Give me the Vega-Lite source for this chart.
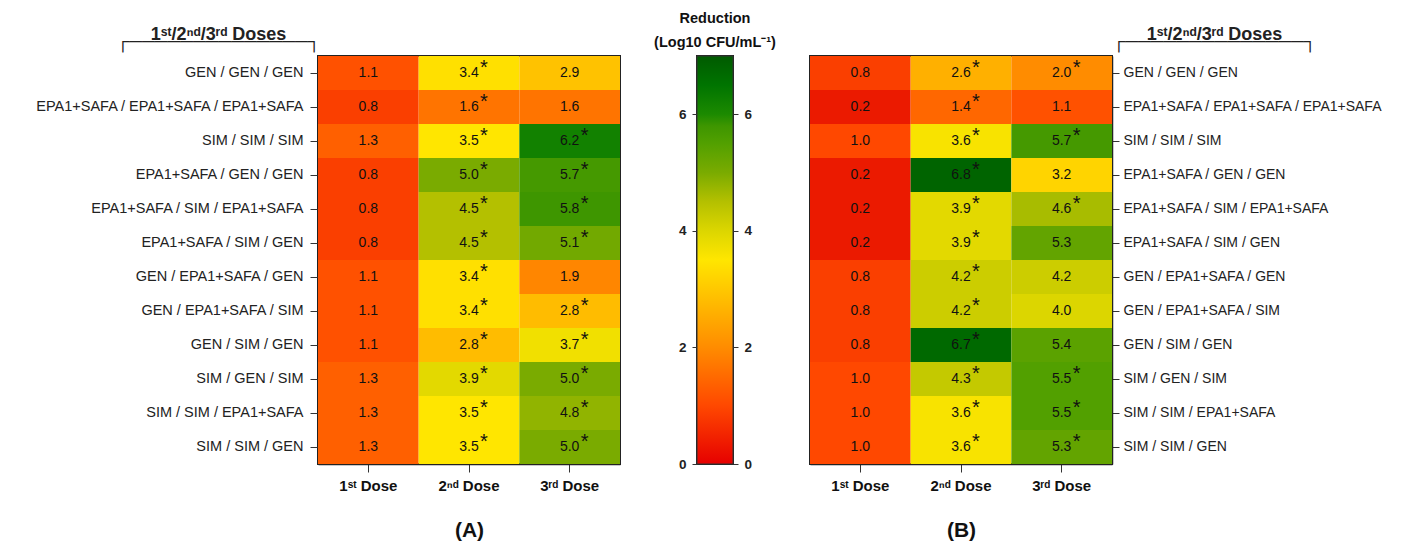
{
  "$schema": "https://vega.github.io/schema/vega-lite/v6.json",
  "background": "white",
  "padding": {"left": 33, "top": 10, "right": 10, "bottom": 2},
  "config": {
    "font": "Liberation Sans",
    "view": {"stroke": "#222", "strokeWidth": 2},
    "axis": {"grid": false, "domainColor": "#222", "tickColor": "#333", "labelColor": "#222", "titleColor": "#111", "zindex": 1}
  },
  "spacing": 77,
  "bounds": "flush",
  "datasets": {
    "cells": [
      {"panel": "A", "regimen": "GEN / GEN / GEN", "dose": "1ˢᵗ Dose", "value": 1.1, "sig": 0},
      {"panel": "A", "regimen": "GEN / GEN / GEN", "dose": "2ⁿᵈ Dose", "value": 3.4, "sig": 1},
      {"panel": "A", "regimen": "GEN / GEN / GEN", "dose": "3ʳᵈ Dose", "value": 2.9, "sig": 0},
      {"panel": "A", "regimen": "EPA1+SAFA / EPA1+SAFA / EPA1+SAFA", "dose": "1ˢᵗ Dose", "value": 0.8, "sig": 0},
      {"panel": "A", "regimen": "EPA1+SAFA / EPA1+SAFA / EPA1+SAFA", "dose": "2ⁿᵈ Dose", "value": 1.6, "sig": 1},
      {"panel": "A", "regimen": "EPA1+SAFA / EPA1+SAFA / EPA1+SAFA", "dose": "3ʳᵈ Dose", "value": 1.6, "sig": 0},
      {"panel": "A", "regimen": "SIM / SIM / SIM", "dose": "1ˢᵗ Dose", "value": 1.3, "sig": 0},
      {"panel": "A", "regimen": "SIM / SIM / SIM", "dose": "2ⁿᵈ Dose", "value": 3.5, "sig": 1},
      {"panel": "A", "regimen": "SIM / SIM / SIM", "dose": "3ʳᵈ Dose", "value": 6.2, "sig": 1},
      {"panel": "A", "regimen": "EPA1+SAFA / GEN / GEN", "dose": "1ˢᵗ Dose", "value": 0.8, "sig": 0},
      {"panel": "A", "regimen": "EPA1+SAFA / GEN / GEN", "dose": "2ⁿᵈ Dose", "value": 5.0, "sig": 1},
      {"panel": "A", "regimen": "EPA1+SAFA / GEN / GEN", "dose": "3ʳᵈ Dose", "value": 5.7, "sig": 1},
      {"panel": "A", "regimen": "EPA1+SAFA / SIM / EPA1+SAFA", "dose": "1ˢᵗ Dose", "value": 0.8, "sig": 0},
      {"panel": "A", "regimen": "EPA1+SAFA / SIM / EPA1+SAFA", "dose": "2ⁿᵈ Dose", "value": 4.5, "sig": 1},
      {"panel": "A", "regimen": "EPA1+SAFA / SIM / EPA1+SAFA", "dose": "3ʳᵈ Dose", "value": 5.8, "sig": 1},
      {"panel": "A", "regimen": "EPA1+SAFA / SIM / GEN", "dose": "1ˢᵗ Dose", "value": 0.8, "sig": 0},
      {"panel": "A", "regimen": "EPA1+SAFA / SIM / GEN", "dose": "2ⁿᵈ Dose", "value": 4.5, "sig": 1},
      {"panel": "A", "regimen": "EPA1+SAFA / SIM / GEN", "dose": "3ʳᵈ Dose", "value": 5.1, "sig": 1},
      {"panel": "A", "regimen": "GEN / EPA1+SAFA / GEN", "dose": "1ˢᵗ Dose", "value": 1.1, "sig": 0},
      {"panel": "A", "regimen": "GEN / EPA1+SAFA / GEN", "dose": "2ⁿᵈ Dose", "value": 3.4, "sig": 1},
      {"panel": "A", "regimen": "GEN / EPA1+SAFA / GEN", "dose": "3ʳᵈ Dose", "value": 1.9, "sig": 0},
      {"panel": "A", "regimen": "GEN / EPA1+SAFA / SIM", "dose": "1ˢᵗ Dose", "value": 1.1, "sig": 0},
      {"panel": "A", "regimen": "GEN / EPA1+SAFA / SIM", "dose": "2ⁿᵈ Dose", "value": 3.4, "sig": 1},
      {"panel": "A", "regimen": "GEN / EPA1+SAFA / SIM", "dose": "3ʳᵈ Dose", "value": 2.8, "sig": 1},
      {"panel": "A", "regimen": "GEN / SIM / GEN", "dose": "1ˢᵗ Dose", "value": 1.1, "sig": 0},
      {"panel": "A", "regimen": "GEN / SIM / GEN", "dose": "2ⁿᵈ Dose", "value": 2.8, "sig": 1},
      {"panel": "A", "regimen": "GEN / SIM / GEN", "dose": "3ʳᵈ Dose", "value": 3.7, "sig": 1},
      {"panel": "A", "regimen": "SIM / GEN / SIM", "dose": "1ˢᵗ Dose", "value": 1.3, "sig": 0},
      {"panel": "A", "regimen": "SIM / GEN / SIM", "dose": "2ⁿᵈ Dose", "value": 3.9, "sig": 1},
      {"panel": "A", "regimen": "SIM / GEN / SIM", "dose": "3ʳᵈ Dose", "value": 5.0, "sig": 1},
      {"panel": "A", "regimen": "SIM / SIM / EPA1+SAFA", "dose": "1ˢᵗ Dose", "value": 1.3, "sig": 0},
      {"panel": "A", "regimen": "SIM / SIM / EPA1+SAFA", "dose": "2ⁿᵈ Dose", "value": 3.5, "sig": 1},
      {"panel": "A", "regimen": "SIM / SIM / EPA1+SAFA", "dose": "3ʳᵈ Dose", "value": 4.8, "sig": 1},
      {"panel": "A", "regimen": "SIM / SIM / GEN", "dose": "1ˢᵗ Dose", "value": 1.3, "sig": 0},
      {"panel": "A", "regimen": "SIM / SIM / GEN", "dose": "2ⁿᵈ Dose", "value": 3.5, "sig": 1},
      {"panel": "A", "regimen": "SIM / SIM / GEN", "dose": "3ʳᵈ Dose", "value": 5.0, "sig": 1},
      {"panel": "B", "regimen": "GEN / GEN / GEN", "dose": "1ˢᵗ Dose", "value": 0.8, "sig": 0},
      {"panel": "B", "regimen": "GEN / GEN / GEN", "dose": "2ⁿᵈ Dose", "value": 2.6, "sig": 1},
      {"panel": "B", "regimen": "GEN / GEN / GEN", "dose": "3ʳᵈ Dose", "value": 2.0, "sig": 1},
      {"panel": "B", "regimen": "EPA1+SAFA / EPA1+SAFA / EPA1+SAFA", "dose": "1ˢᵗ Dose", "value": 0.2, "sig": 0},
      {"panel": "B", "regimen": "EPA1+SAFA / EPA1+SAFA / EPA1+SAFA", "dose": "2ⁿᵈ Dose", "value": 1.4, "sig": 1},
      {"panel": "B", "regimen": "EPA1+SAFA / EPA1+SAFA / EPA1+SAFA", "dose": "3ʳᵈ Dose", "value": 1.1, "sig": 0},
      {"panel": "B", "regimen": "SIM / SIM / SIM", "dose": "1ˢᵗ Dose", "value": 1.0, "sig": 0},
      {"panel": "B", "regimen": "SIM / SIM / SIM", "dose": "2ⁿᵈ Dose", "value": 3.6, "sig": 1},
      {"panel": "B", "regimen": "SIM / SIM / SIM", "dose": "3ʳᵈ Dose", "value": 5.7, "sig": 1},
      {"panel": "B", "regimen": "EPA1+SAFA / GEN / GEN", "dose": "1ˢᵗ Dose", "value": 0.2, "sig": 0},
      {"panel": "B", "regimen": "EPA1+SAFA / GEN / GEN", "dose": "2ⁿᵈ Dose", "value": 6.8, "sig": 1},
      {"panel": "B", "regimen": "EPA1+SAFA / GEN / GEN", "dose": "3ʳᵈ Dose", "value": 3.2, "sig": 0},
      {"panel": "B", "regimen": "EPA1+SAFA / SIM / EPA1+SAFA", "dose": "1ˢᵗ Dose", "value": 0.2, "sig": 0},
      {"panel": "B", "regimen": "EPA1+SAFA / SIM / EPA1+SAFA", "dose": "2ⁿᵈ Dose", "value": 3.9, "sig": 1},
      {"panel": "B", "regimen": "EPA1+SAFA / SIM / EPA1+SAFA", "dose": "3ʳᵈ Dose", "value": 4.6, "sig": 1},
      {"panel": "B", "regimen": "EPA1+SAFA / SIM / GEN", "dose": "1ˢᵗ Dose", "value": 0.2, "sig": 0},
      {"panel": "B", "regimen": "EPA1+SAFA / SIM / GEN", "dose": "2ⁿᵈ Dose", "value": 3.9, "sig": 1},
      {"panel": "B", "regimen": "EPA1+SAFA / SIM / GEN", "dose": "3ʳᵈ Dose", "value": 5.3, "sig": 0},
      {"panel": "B", "regimen": "GEN / EPA1+SAFA / GEN", "dose": "1ˢᵗ Dose", "value": 0.8, "sig": 0},
      {"panel": "B", "regimen": "GEN / EPA1+SAFA / GEN", "dose": "2ⁿᵈ Dose", "value": 4.2, "sig": 1},
      {"panel": "B", "regimen": "GEN / EPA1+SAFA / GEN", "dose": "3ʳᵈ Dose", "value": 4.2, "sig": 0},
      {"panel": "B", "regimen": "GEN / EPA1+SAFA / SIM", "dose": "1ˢᵗ Dose", "value": 0.8, "sig": 0},
      {"panel": "B", "regimen": "GEN / EPA1+SAFA / SIM", "dose": "2ⁿᵈ Dose", "value": 4.2, "sig": 1},
      {"panel": "B", "regimen": "GEN / EPA1+SAFA / SIM", "dose": "3ʳᵈ Dose", "value": 4.0, "sig": 0},
      {"panel": "B", "regimen": "GEN / SIM / GEN", "dose": "1ˢᵗ Dose", "value": 0.8, "sig": 0},
      {"panel": "B", "regimen": "GEN / SIM / GEN", "dose": "2ⁿᵈ Dose", "value": 6.7, "sig": 1},
      {"panel": "B", "regimen": "GEN / SIM / GEN", "dose": "3ʳᵈ Dose", "value": 5.4, "sig": 0},
      {"panel": "B", "regimen": "SIM / GEN / SIM", "dose": "1ˢᵗ Dose", "value": 1.0, "sig": 0},
      {"panel": "B", "regimen": "SIM / GEN / SIM", "dose": "2ⁿᵈ Dose", "value": 4.3, "sig": 1},
      {"panel": "B", "regimen": "SIM / GEN / SIM", "dose": "3ʳᵈ Dose", "value": 5.5, "sig": 1},
      {"panel": "B", "regimen": "SIM / SIM / EPA1+SAFA", "dose": "1ˢᵗ Dose", "value": 1.0, "sig": 0},
      {"panel": "B", "regimen": "SIM / SIM / EPA1+SAFA", "dose": "2ⁿᵈ Dose", "value": 3.6, "sig": 1},
      {"panel": "B", "regimen": "SIM / SIM / EPA1+SAFA", "dose": "3ʳᵈ Dose", "value": 5.5, "sig": 1},
      {"panel": "B", "regimen": "SIM / SIM / GEN", "dose": "1ˢᵗ Dose", "value": 1.0, "sig": 0},
      {"panel": "B", "regimen": "SIM / SIM / GEN", "dose": "2ⁿᵈ Dose", "value": 3.6, "sig": 1},
      {"panel": "B", "regimen": "SIM / SIM / GEN", "dose": "3ʳᵈ Dose", "value": 5.3, "sig": 1}
    ],
    "bar": [{"lo": 0, "hi": 7, "k": "bar"}]
  },
  "hconcat": [
    {
      "width": 302,
      "height": 408,
      "data": {"name": "cells"},
      "transform": [{"filter": "datum.panel == 'A'"}],
      "encoding": {
        "x": {"field": "dose", "type": "nominal", "sort": ["1ˢᵗ Dose", "2ⁿᵈ Dose", "3ʳᵈ Dose"],
          "axis": {"title": "(A)", "titleFontSize": 21, "titleFontWeight": "bold", "titlePadding": 26, "labelAngle": 0, "labelFontSize": 15, "labelFontWeight": "bold", "labelColor": "#111", "tickSize": 8, "labelPadding": 6, "domainWidth": 1.5}},
        "y": {"field": "regimen", "type": "nominal",
          "sort": ["GEN / GEN / GEN", "EPA1+SAFA / EPA1+SAFA / EPA1+SAFA", "SIM / SIM / SIM", "EPA1+SAFA / GEN / GEN", "EPA1+SAFA / SIM / EPA1+SAFA", "EPA1+SAFA / SIM / GEN", "GEN / EPA1+SAFA / GEN", "GEN / EPA1+SAFA / SIM", "GEN / SIM / GEN", "SIM / GEN / SIM", "SIM / SIM / EPA1+SAFA", "SIM / SIM / GEN"],
          "axis": {"title": ["1ˢᵗ/2ⁿᵈ/3ʳᵈ Doses", "┌──────────────┐"], "titleAngle": 0, "titleAlign": "center", "titleBaseline": "alphabetic", "titleX": -100, "titleY": -17, "titleFontSize": 18, "titleFontWeight": "bold", "titleLineHeight": 7, "titleColor": "#222", "labelFontSize": 14.5, "labelLimit": 400, "tickSize": 8, "labelPadding": 7, "domainWidth": 1.5}}
      },
      "layer": [
        {"mark": {"type": "rect"},
          "encoding": {"color": {"field": "value", "type": "quantitative", "legend": null,
            "scale": {"domain": [0, 1, 2, 3, 3.5, 4, 4.5, 5, 5.5, 5.8, 6, 6.5, 7], "range": ["#e60000", "#ff4800", "#ff8c00", "#ffc800", "#ffe600", "#dcd600", "#b4c000", "#7aab00", "#52a000", "#3e9600", "#1c8a00", "#007400", "#005a00"]}}}},
        {"mark": {"type": "text", "fontSize": 14, "baseline": "middle", "color": "#111"},
          "encoding": {"text": {"field": "value", "type": "quantitative", "format": ".1f"}}},
        {"transform": [{"filter": "datum.sig == 1"}],
          "mark": {"type": "text", "text": "*", "fontSize": 20, "baseline": "middle", "dx": 15, "dy": -5, "color": "#111"}}
      ]
    },
    {
      "width": 36,
      "height": 408,
      "title": {"text": ["Reduction", "(Log10 CFU/mL⁻¹)"], "fontSize": 14.5, "fontWeight": "bold", "offset": 5, "lineHeight": 24, "color": "#111"},
      "data": {"name": "bar"},
      "encoding": {
        "x": {"field": "k", "type": "nominal", "axis": null}
      },
      "layer": [
        {"mark": {"type": "rect", "stroke": "#333", "strokeWidth": 1,
          "fill": {"gradient": "linear", "x1": 0, "y1": 1, "x2": 0, "y2": 0,
            "stops": [
              {"offset": 0, "color": "#e60000"}, {"offset": 0.142857, "color": "#ff4800"}, {"offset": 0.285714, "color": "#ff8c00"},
              {"offset": 0.428571, "color": "#ffc800"}, {"offset": 0.5, "color": "#ffe600"}, {"offset": 0.571429, "color": "#dcd600"},
              {"offset": 0.642857, "color": "#b4c000"}, {"offset": 0.714286, "color": "#7aab00"}, {"offset": 0.785714, "color": "#52a000"},
              {"offset": 0.828571, "color": "#3e9600"}, {"offset": 0.857143, "color": "#1c8a00"}, {"offset": 0.928571, "color": "#007400"},
              {"offset": 1, "color": "#005a00"}]}},
          "encoding": {
            "y": {"field": "lo", "type": "quantitative", "scale": {"domain": [0, 7], "nice": false},
              "axis": {"orient": "left", "values": [0, 2, 4, 6], "title": null, "domain": false, "tickSize": 5, "labelPadding": 6, "labelFontSize": 13.5, "labelFontWeight": "bold"}},
            "y2": {"field": "hi"}}},
        {"mark": {"type": "rect", "opacity": 0},
          "encoding": {
            "y": {"field": "lo", "type": "quantitative",
              "axis": {"orient": "right", "values": [0, 2, 4, 6], "title": null, "domain": false, "tickSize": 5, "labelPadding": 6, "labelFontSize": 13.5, "labelFontWeight": "bold"}},
            "y2": {"field": "hi"}}}
      ],
      "resolve": {"axis": {"y": "independent"}}
    },
    {
      "width": 302,
      "height": 408,
      "data": {"name": "cells"},
      "transform": [{"filter": "datum.panel == 'B'"}],
      "encoding": {
        "x": {"field": "dose", "type": "nominal", "sort": ["1ˢᵗ Dose", "2ⁿᵈ Dose", "3ʳᵈ Dose"],
          "axis": {"title": "(B)", "titleFontSize": 21, "titleFontWeight": "bold", "titlePadding": 26, "labelAngle": 0, "labelFontSize": 15, "labelFontWeight": "bold", "labelColor": "#111", "tickSize": 8, "labelPadding": 6, "domainWidth": 1.5}},
        "y": {"field": "regimen", "type": "nominal",
          "sort": ["GEN / GEN / GEN", "EPA1+SAFA / EPA1+SAFA / EPA1+SAFA", "SIM / SIM / SIM", "EPA1+SAFA / GEN / GEN", "EPA1+SAFA / SIM / EPA1+SAFA", "EPA1+SAFA / SIM / GEN", "GEN / EPA1+SAFA / GEN", "GEN / EPA1+SAFA / SIM", "GEN / SIM / GEN", "SIM / GEN / SIM", "SIM / SIM / EPA1+SAFA", "SIM / SIM / GEN"],
          "axis": {"orient": "right", "title": ["1ˢᵗ/2ⁿᵈ/3ʳᵈ Doses", "┌──────────────┐"], "titleAngle": 0, "titleAlign": "center", "titleBaseline": "alphabetic", "titleX": 102, "titleY": -17, "titleFontSize": 18, "titleFontWeight": "bold", "titleLineHeight": 7, "titleColor": "#222", "labelFontSize": 14, "labelLimit": 400, "tickSize": 7, "labelPadding": 4, "domainWidth": 1.5}}
      },
      "layer": [
        {"mark": {"type": "rect"},
          "encoding": {"color": {"field": "value", "type": "quantitative", "legend": null,
            "scale": {"domain": [0, 1, 2, 3, 3.5, 4, 4.5, 5, 5.5, 5.8, 6, 6.5, 7], "range": ["#e60000", "#ff4800", "#ff8c00", "#ffc800", "#ffe600", "#dcd600", "#b4c000", "#7aab00", "#52a000", "#3e9600", "#1c8a00", "#007400", "#005a00"]}}}},
        {"mark": {"type": "text", "fontSize": 14, "baseline": "middle", "color": "#111"},
          "encoding": {"text": {"field": "value", "type": "quantitative", "format": ".1f"}}},
        {"transform": [{"filter": "datum.sig == 1"}],
          "mark": {"type": "text", "text": "*", "fontSize": 20, "baseline": "middle", "dx": 15, "dy": -5, "color": "#111"}}
      ]
    }
  ]
}
